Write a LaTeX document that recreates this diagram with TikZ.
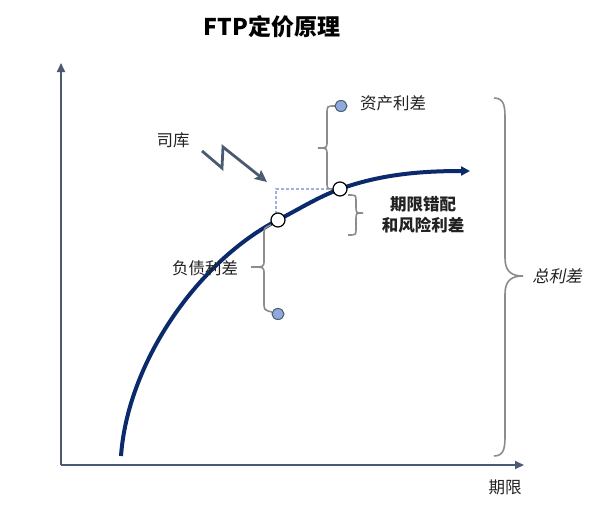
\documentclass[tikz,border=0pt]{standalone}
\usepackage{fontspec}
\setmainfont{Noto Sans CJK SC}[AutoFakeSlant=0.2]
\usetikzlibrary{arrows.meta,shapes.geometric}
\definecolor{axiscol}{HTML}{4A5A72}
\definecolor{curvecol}{HTML}{0B2A6B}
\definecolor{bracecol}{HTML}{8C8C8C}
\definecolor{dotfill}{HTML}{8EA9DB}
\definecolor{dashcol}{HTML}{9DB3DC}
\definecolor{txtcol}{HTML}{222222}
\tikzset{
  axisline/.style={draw=axiscol, line width=2pt, -{Triangle[length=9pt,width=8pt]}},
  curveline/.style={draw=curvecol, line width=4pt, -{Triangle[length=9pt,width=9pt]}},
  bracestyle/.style={draw=bracecol, line width=1.6pt},
  opendot/.style={circle, draw=black, fill=white, line width=1.2pt, minimum size=14pt, inner sep=0pt},
  bluedot/.style={ellipse, draw=axiscol, fill=dotfill, line width=1pt, minimum width=12pt, minimum height=11pt, inner sep=0pt},
  lbl/.style={text=txtcol, font=\fontsize{16.5}{19}\selectfont, inner sep=0pt},
  boldlbl/.style={text=txtcol, font=\fontsize{16.5}{21}\selectfont\bfseries, inner sep=0pt, align=center},
}
\begin{document}
\begin{tikzpicture}[x=1pt,y=-1pt]
\useasboundingbox[fill=white] (0,0) rectangle (616,514);
% title
\node[text=black, font=\fontsize{23}{27}\selectfont\bfseries, inner sep=0pt] (title) at (272,27) {FTP定价原理};
% axes
\coordinate (origin) at (61,465);
\coordinate (ytop) at (61,63);
\coordinate (xend) at (524,465);
\draw[axisline] (origin) -- (ytop);
\draw[axisline] (origin) -- (xend);
\node[lbl] (qixian) at (505,487) {期限};
% dashed guides
\coordinate (dcorner) at (276,189);
\draw[draw=dashcol, line width=1.1pt, dash pattern=on 3pt off 2pt] (276,214) -- (dcorner) -- (334,189);
% curve
\coordinate (c0) at (121,456);
\coordinate (c1) at (278,220);
\coordinate (c2) at (340,189);
\coordinate (c3) at (470,171);
\draw[curveline] (c0) .. controls (128,360) and (200,260) .. (c1)
  .. controls (299,209.2) and (318,197) .. (c2)
  .. controls (380,174.5) and (420,171) .. (c3);
% asset spread brace
\draw[bracestyle] (335,106) .. controls (327,106) .. (327,114) -- (327,141) .. controls (327,148) .. (318,148) .. controls (327,148) .. (327,155) -- (327,182) .. controls (327,189) .. (334,189);
% liability spread brace
\draw[bracestyle] (271,225) .. controls (264,228) .. (264,235) -- (264,260) .. controls (264,267) .. (251,267) .. controls (264,267) .. (264,274) -- (264,302) .. controls (264,310) .. (272,312);
% mismatch brace
\draw[bracestyle] (348,195) .. controls (356,195) .. (356,201) -- (356,207) .. controls (356,213) .. (363,213) .. controls (356,213) .. (356,219) -- (356,229) .. controls (356,235) .. (348,235);
% total brace
\draw[bracestyle] (494,98) .. controls (505,98) and (505,108) .. (505,120) -- (505,258) .. controls (505,272) and (512,276) .. (523,276) .. controls (512,276) and (505,280) .. (505,294) -- (505,434) .. controls (505,446) and (505,456) .. (494,456);
% dots
\node[opendot] (d1) at (c1) {};
\node[opendot] (d2) at (c2) {};
\node[bluedot] (asset) at (341,106) {};
\node[bluedot] (liab) at (278,314) {};
% labels
\node[lbl] (assetlbl) at (393,103) {资产利差};
\node[lbl] (liablbl) at (205,268) {负债利差};
\node[boldlbl] (mismatch) at (423,215) {期限错配\\和风险利差};
\node[lbl, font=\fontsize{16.5}{19}\selectfont\itshape] (total) at (557,276) {总利差};
\node[lbl] (siku) at (173,140) {司库};
% lightning arrow
\coordinate (z0) at (202,151);
\coordinate (z1) at (222,168);
\coordinate (z2) at (223,147);
\coordinate (z3) at (267,182);
\draw[draw=axiscol, line width=2.8pt, line join=miter, -{Stealth[length=12pt,width=11pt,inset=2pt,fill=axiscol!55]}] (z0) -- (z1) -- (z2) -- (z3);
\end{tikzpicture}
\end{document}
